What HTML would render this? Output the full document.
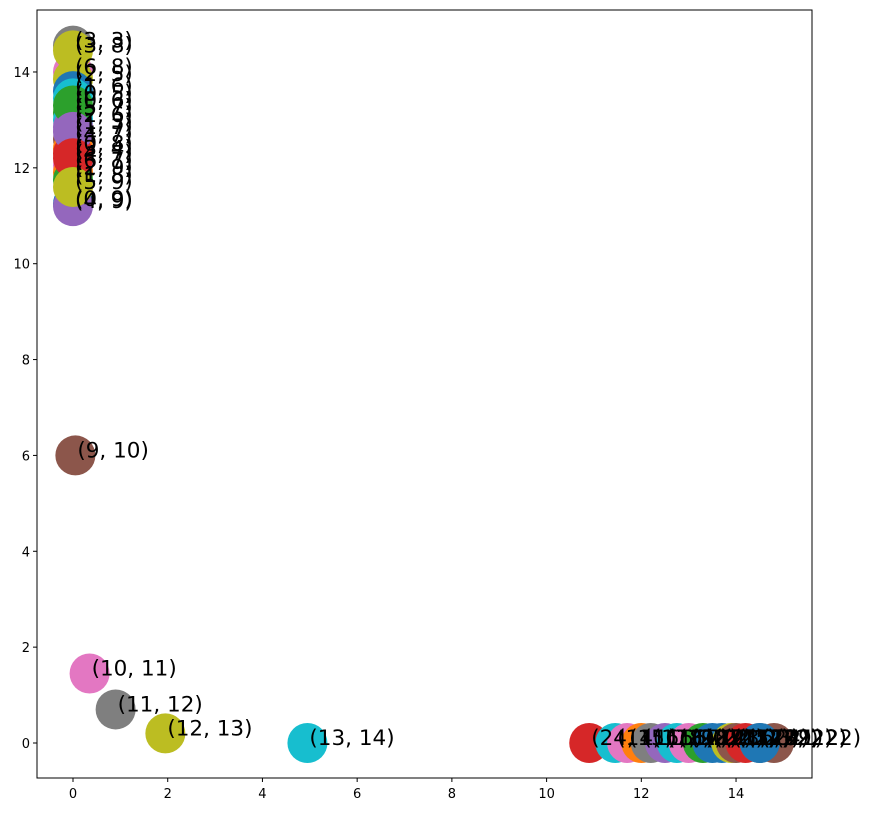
<!DOCTYPE html>
<html><head><meta charset="utf-8"><style>
body{margin:0;background:#fff;}
svg text{font-family:"DejaVu Sans","Liberation Sans",sans-serif;}
</style></head><body>
<svg id="chart" width="875" height="813" xmlns="http://www.w3.org/2000/svg">
<rect width="875" height="813" fill="#fff"/>
<g id="marks"></g>
<g id="labels"></g>
<rect x="37" y="10" width="775" height="768" fill="none" stroke="#000" stroke-width="1"/>
<g id="axes"></g>
</svg>
<script>
const xValues=[0,0,0,0,0,0,0,0,0,0,0,0,0,0,0,0,0,0,0,0,0,0.05,0.35,0.9,1.95,4.95,10.9,11.45,11.7,12.0,12.2,12.5,12.75,13.0,13.3,13.5,13.7,13.9,14.0,14.2,14.5,14.8,14.5];
const yValues=[14.55,14.0,13.85,13.6,13.45,13.15,13.0,12.85,12.6,12.4,12.3,12.05,11.9,11.75,11.25,11.2,14.45,13.3,12.75,12.2,11.6,6.0,1.45,0.7,0.2,0,0,0,0,0,0,0,0,0,0,0,0,0,0,0,0,0,0];
const pointLabels=["(3, 3)","(6, 8)","(2, 5)","(1, 6)","(0, 5)","(5, 7)","(2, 6)","(1, 3)","(4, 7)","(0, 8)","(3, 4)","(6, 7)","(2, 9)","(1, 8)","(0, 9)","(4, 9)","(3, 8)","(0, 6)","(1, 7)","(4, 7)","(5, 9)","(9, 10)","(10, 11)","(11, 12)","(12, 13)","(13, 14)","(24, 11)","(14, 15)","(15, 16)","(16, 17)","(17, 18)","(18, 19)","(19, 20)","(20, 21)","(21, 22)","(22, 23)","(23, 24)","(15, 22)","(16, 21)","(17, 22)","(18, 22)","(19, 22)","(20, 22)"];
const pointColors=["#7f7f7f","#e377c2","#bcbd22","#1f77b4","#17becf","#2ca02c","#17becf","#9467bd","#8c564b","#ff7f0e","#d62728","#e377c2","#ff7f0e","#2ca02c","#1f77b4","#9467bd","#bcbd22","#2ca02c","#9467bd","#d62728","#bcbd22","#8c564b","#e377c2","#7f7f7f","#bcbd22","#17becf","#d62728","#17becf","#e377c2","#ff7f0e","#7f7f7f","#9467bd","#17becf","#e377c2","#2ca02c","#1f77b4","#1f77b4","#bcbd22","#8c564b","#d62728","#7f7f7f","#8c564b","#1f77b4"];
const xTicks=[0,2,4,6,8,10,12,14];
const yTicks=[0,2,4,6,8,10,12,14];
const NS="http://www.w3.org/2000/svg";
function sx(v){return 73+v*47.36;}
function sy(v){return 743-v*47.93;}
const marks=document.getElementById('marks'),labels=document.getElementById('labels'),axes=document.getElementById('axes');
for(let i=0;i<xValues.length;i++){
  const c=document.createElementNS(NS,'circle');
  
  
  c.setAttribute('cx',sx(xValues[i]));c.setAttribute('cy',sy(yValues[i]));c.setAttribute('r',20);c.setAttribute('fill',pointColors[i]);
  marks.appendChild(c);
  const t=document.createElementNS(NS,'text');
  
  
  t.setAttribute('x',sx(xValues[i])+2);t.setAttribute('y',sy(yValues[i])+2);t.setAttribute('font-size','21.5');
  t.textContent=pointLabels[i];
  labels.appendChild(t);
}
for(const v of xTicks){
  const l=document.createElementNS(NS,'line');
  
  
  l.setAttribute('x1',sx(v));l.setAttribute('x2',sx(v));l.setAttribute('y1',778);l.setAttribute('y2',782);l.setAttribute('stroke','#000');
  axes.appendChild(l);
  const t=document.createElementNS(NS,'text');
  
  
  t.setAttribute('x',sx(v));t.setAttribute('y',798);t.setAttribute('font-size','13');t.setAttribute('text-anchor','middle');
  t.textContent=v;axes.appendChild(t);
}
for(const v of yTicks){
  const l=document.createElementNS(NS,'line');
  
  
  l.setAttribute('x1',33);l.setAttribute('x2',37);l.setAttribute('y1',sy(v));l.setAttribute('y2',sy(v));l.setAttribute('stroke','#000');
  axes.appendChild(l);
  const t=document.createElementNS(NS,'text');
  
  
  t.setAttribute('x',30);t.setAttribute('y',sy(v)+5);t.setAttribute('font-size','13');t.setAttribute('text-anchor','end');
  t.textContent=v;axes.appendChild(t);
}
</script>
</body></html>
